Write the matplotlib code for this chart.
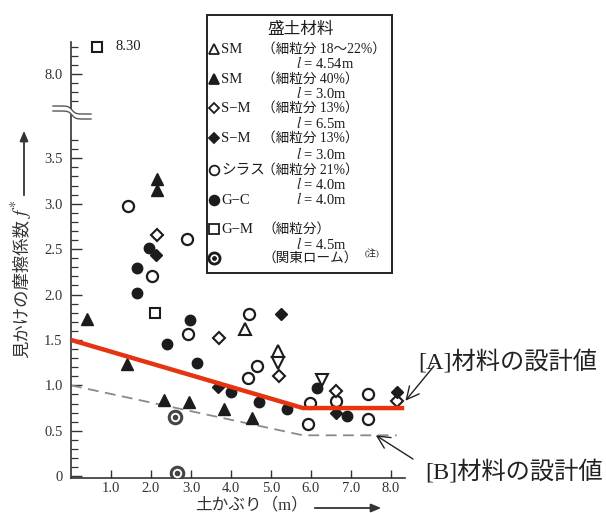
import numpy as np
import matplotlib
matplotlib.use("Agg")
import matplotlib.pyplot as plt
from matplotlib.lines import Line2D
from matplotlib.patches import Rectangle, Polygon, FancyArrowPatch

plt.rcParams['font.family'] = ['Liberation Serif', 'Noto Sans CJK JP']
plt.rcParams['mathtext.fontset'] = 'stix'

# --- data ---
# SM (細粒分 18~22%), open triangles
sm_open_x = [4.35, 5.17]
sm_open_y = [1.62, 1.38]
# inverted open triangles (unlisted)
inv_tri_x = [5.18, 6.27]
inv_tri_y = [1.25, 1.06]
# SM (細粒分 40%), filled triangles
sm_fill_x = [0.41, 1.39, 2.14, 2.14, 2.33, 2.96, 3.83, 4.53]
sm_fill_y = [1.73, 1.24, 3.27, 3.15, 0.84, 0.82, 0.74, 0.64]
# S-M l=6.5m, open diamonds
smd_open_x = [2.14, 3.70, 5.21, 6.63, 8.14]
smd_open_y = [2.66, 1.52, 1.10, 0.94, 0.83]
# S-M l=3.0m, filled diamonds
smd_fill_x = [2.13, 5.25, 3.68, 6.63, 8.16]
smd_fill_y = [2.44, 1.78, 0.98, 0.70, 0.93]
# シラス, open circles
shirasu_x = [1.43, 2.89, 2.02, 4.46, 2.92, 4.64, 4.43, 5.93, 5.98, 6.63, 7.43, 7.43]
shirasu_y = [2.97, 2.61, 2.20, 1.79, 1.56, 1.21, 1.08, 0.57, 0.81, 0.83, 0.90, 0.63]
# G-C, filled circles
gc_x = [1.96, 1.64, 1.66, 2.98, 2.39, 3.14, 3.99, 4.71, 5.39, 6.14, 6.91]
gc_y = [2.51, 2.29, 2.02, 1.72, 1.46, 1.25, 0.93, 0.82, 0.74, 0.97, 0.66]
# G-M, open squares
gm_x = [2.10, 0.65]
gm_y = [1.80, 8.30]
# 関東ローム, double circles
kanto_x = [2.60, 2.64]
kanto_y = [0.65, 0.04]

# design lines
line_a_x = [0.0, 5.8, 8.33]
line_a_y = [1.50, 0.75, 0.75]
line_b_x = [0.0, 5.8, 8.14]
line_b_y = [1.00, 0.45, 0.45]

ytick_vals = [0, 0.5, 1.0, 1.5, 2.0, 2.5, 3.0, 3.5, 8.0]
ytick_labels = ['0', '0.5', '1.0', '1.5', '2.0', '2.5', '3.0', '3.5', '8.0']
xtick_vals = [1, 2, 3, 4, 5, 6, 7, 8]
xtick_labels = ['1.0', '2.0', '3.0', '4.0', '5.0', '6.0', '7.0', '8.0']

W, H = 606, 513
fig = plt.figure(figsize=(W / 100, H / 100), dpi=100)


def fx(px):
    return px / W


def fy(py):
    return 1 - py / H


ax = fig.add_axes([fx(71), fy(478), (405 - 71) / W, (478 - 42) / H])

# broken y axis: squeeze out 3.96 .. 7.53
LO, HI = 3.96, 7.53


def fwd(y):
    y = np.asarray(y, float)
    return np.where(y <= LO, y, np.where(y >= HI, y - (HI - LO), LO))


def inv(t):
    t = np.asarray(t, float)
    return np.where(t <= LO, t, t + (HI - LO))


ax.set_yscale('function', functions=(fwd, inv))
ax.set_xlim(0, 8.35)
ax.set_ylim(-0.02, 8.35)

ink = '#1c1c1c'
ms = 8
ax.plot(shirasu_x, shirasu_y, 'o', ms=ms, mfc='white', mec=ink, mew=1.6, ls='none', zorder=3)
ax.plot(gc_x, gc_y, 'o', ms=7.5, mfc=ink, mec=ink, ls='none', zorder=3)
ax.plot(sm_open_x, sm_open_y, '^', ms=ms, mfc='white', mec=ink, mew=1.5, ls='none', zorder=3)
ax.plot(inv_tri_x, inv_tri_y, 'v', ms=ms, mfc='white', mec=ink, mew=1.5, ls='none', zorder=3)
ax.plot(sm_fill_x, sm_fill_y, '^', ms=ms, mfc=ink, mec=ink, ls='none', zorder=3)
ax.plot(smd_open_x, smd_open_y, 'D', ms=6.5, mfc='white', mec=ink, mew=1.5, ls='none', zorder=3)
ax.plot(smd_fill_x, smd_fill_y, 'D', ms=6, mfc=ink, mec=ink, ls='none', zorder=3)
ax.plot(gm_x, gm_y, 's', ms=7.5, mfc='white', mec=ink, mew=1.5, ls='none', zorder=3, clip_on=False)
ax.plot(kanto_x, kanto_y, 'o', ms=9, mfc='white', mec='#444444', mew=2.2, ls='none', zorder=3)
ax.plot(kanto_x, kanto_y, 'o', ms=3, mfc='#444444', mec='#444444', ls='none', zorder=4)

ax.plot(line_b_x, line_b_y, color='#8a8a8a', lw=1.3, dashes=(6, 3.6), zorder=2)
ax.plot(line_a_x, line_a_y, color='#e63312', lw=3.2, solid_capstyle='butt', zorder=5)

ax.text(1.1, 8.30, '8.30', fontsize=10.5, va='center', ha='left', color=ink)

# axes styling
for s in ['top', 'right']:
    ax.spines[s].set_visible(False)
for s in ['left', 'bottom']:
    ax.spines[s].set_linewidth(1.2)
    ax.spines[s].set_color('#333333')

ax.set_yticks(ytick_vals)
ax.set_yticklabels(ytick_labels)
minor = list(np.round(np.arange(0.1, 3.75, 0.1), 2)) + [7.7, 7.8, 7.9, 8.1, 8.2, 8.3]
ax.set_yticks(minor, minor=True)
ax.set_xticks(xtick_vals)
ax.set_xticklabels(xtick_labels)
ax.tick_params(axis='y', which='major', direction='in', length=8, width=1, pad=6,
               labelsize=10.5, colors='#333333')
ax.tick_params(axis='y', which='minor', direction='in', length=5, width=0.9, colors='#333333')
ax.tick_params(axis='x', which='major', direction='in', length=6, width=1, pad=3,
               labelsize=10.5, colors='#333333')
ax.tick_params(axis='x', which='minor', length=0)

# break marks on y axis
xs = np.linspace(53, 91, 40)
s = np.tanh((xs - 72) / 3.5)
top = 110 + 4 * s
bot = 115 + 4 * s
gap = Polygon(np.column_stack([fx(np.r_[xs, xs[::-1]]), fy(np.r_[top, bot[::-1]])]),
              closed=True, transform=fig.transFigure, facecolor='white', edgecolor='none', zorder=10)
fig.add_artist(gap)
fig.add_artist(Line2D(fx(xs), fy(top), transform=fig.transFigure, color='#555555', lw=1, zorder=11))
fig.add_artist(Line2D(fx(xs), fy(bot), transform=fig.transFigure, color='#555555', lw=1, zorder=11))

# axis labels with arrows
fig.text(fx(22), fy(358), '見かけの摩擦係数', rotation=90, ha='center', va='bottom',
         fontsize=12.5, color='#333333')
fig.text(fx(22), fy(218), '$f^{*}$', rotation=90, ha='center', va='bottom',
         fontsize=14, color='#333333')
fig.add_artist(FancyArrowPatch((fx(24), fy(198)), (fx(24), fy(128)),
               transform=fig.transFigure, arrowstyle='-|>,head_length=6,head_width=2.5',
               color='#333333', lw=1.3))
fig.text(fx(195), fy(505), '土かぶり（m）', ha='left', va='center', fontsize=12, color='#333333')
fig.add_artist(FancyArrowPatch((fx(312), fy(508)), (fx(384), fy(508)),
               transform=fig.transFigure, arrowstyle='-|>,head_length=6,head_width=2.5',
               color='#333333', lw=1.3))

# legend box
fig.add_artist(Rectangle((fx(207), fy(273)), (392 - 207) / W, (273 - 15) / H,
                         transform=fig.transFigure, fill=False, edgecolor='#222222', lw=1.4))
fig.text(fx(300), fy(30), '盛土材料', ha='center', va='center', fontsize=12, color=ink)


def leg_marker(py, marker, size, filled, mew=1.3):
    fig.add_artist(Line2D([fx(214)], [fy(py)], transform=fig.transFigure, marker=marker, ms=size,
                          mfc=ink if filled else 'white', mec=ink, mew=mew, ls='none'))


rows = [
    (49, '^', 7, False, 'SM', '（細粒分 18～22%）'),
    (79, '^', 7, True, 'SM', '（細粒分 40%）'),
    (108, 'D', 5.5, False, 'S−M', '（細粒分 13%）'),
    (138, 'D', 5, True, 'S−M', '（細粒分 13%）'),
    (170, 'o', 7, False, 'シラス', '（細粒分 21%）'),
    (200, 'o', 7, True, 'G−C', ''),
    (229, 's', 6.5, False, 'G−M', '（細粒分）'),
]
for py, mk, sz, fl, name, desc in rows:
    leg_marker(py, mk, sz, fl)
    fig.text(fx(221), fy(py + 4), name, ha='left', va='baseline', fontsize=10.5, color=ink)
    if desc:
        fig.text(fx(262), fy(py + 4), desc, ha='left', va='baseline', fontsize=9.8, color=ink)

l_rows = [(64, '4.54m'), (94, '3.0m'), (124, '6.5m'), (155, '3.0m'), (185, '4.0m'),
          (200, '4.0m'), (245, '4.5m')]
for py, val in l_rows:
    fig.text(fx(296), fy(py + 4), '$l$ = ' + val, ha='left', va='baseline', fontsize=10.5, color=ink)

leg_marker(258, 'o', 8, False, mew=2)
fig.add_artist(Line2D([fx(214)], [fy(258)], transform=fig.transFigure, marker='o', ms=2.5,
                      mfc=ink, mec=ink, ls='none'))
fig.text(fx(262), fy(262), '（関東ローム）', ha='left', va='baseline', fontsize=9.8, color=ink)
fig.text(fx(365), fy(256), '(注)', ha='left', va='baseline', fontsize=6.5, color=ink)

# annotations
fig.text(fx(418), fy(362), '[A]材料の設計値', ha='left', va='center', fontsize=17.5, color='#222222')
fig.text(fx(425), fy(472), '[B]材料の設計値', ha='left', va='center', fontsize=17.5, color='#222222')
ax.annotate('', xy=(8.36, 0.83), xycoords='data', xytext=(434, H - 366), textcoords='figure pixels',
            arrowprops=dict(arrowstyle='->,head_length=0.9,head_width=0.45', color='#222222', lw=1,
                            shrinkA=0, shrinkB=0), annotation_clip=False)
ax.annotate('', xy=(7.62, 0.45), xycoords='data', xytext=(413, H - 459), textcoords='figure pixels',
            arrowprops=dict(arrowstyle='->,head_length=0.9,head_width=0.45', color='#222222', lw=1,
                            shrinkA=0, shrinkB=0), annotation_clip=False)

fig.savefig('out.png', dpi=100)
